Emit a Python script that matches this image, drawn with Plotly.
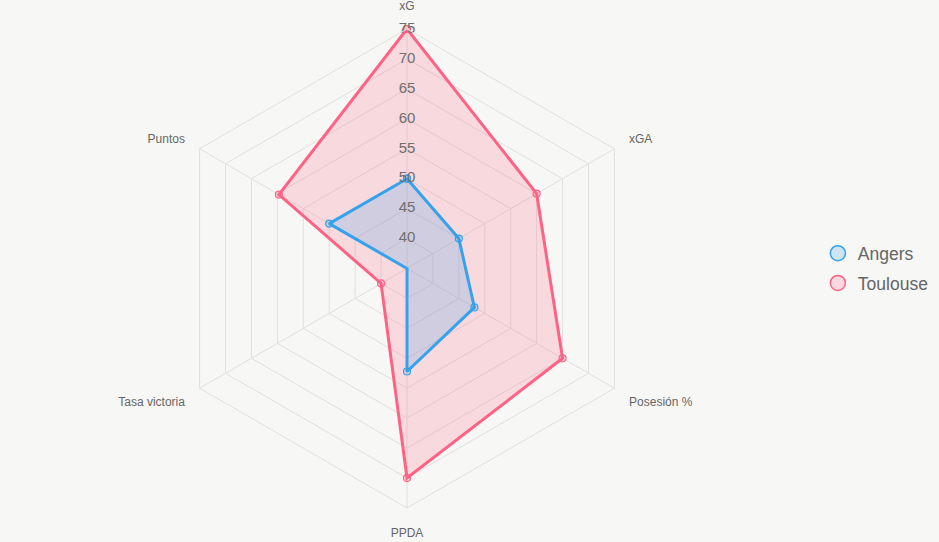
import plotly.graph_objects as go

categories = ["xG", "xGA", "Posesión %", "PPDA", "Tasa victoria", "Puntos"]
angers = [50, 45, 48, 52.2, 35, 50]
toulouse = [75, 60, 65, 70, 40, 59.7]
tick_values = [40, 45, 50, 55, 60, 65, 70, 75]
tick_labels = [str(v) for v in tick_values]
series_names = ["Angers", "Toulouse"]
series_values = [angers, toulouse]

line_colors = ["#36A2EB", "#FF6384"]
fill_colors = ["rgba(54,162,235,0.2)", "rgba(255,99,132,0.2)"]
FONT = "Liberation Sans, Arial, sans-serif"

fig = go.Figure()
# draw in reverse order so the first dataset sits on top (as Chart.js does)
for name, vals, lc, fc in reversed(list(zip(series_names, series_values, line_colors, fill_colors))):
    fig.add_trace(go.Scatterpolar(
        r=vals + vals[:1], theta=categories + categories[:1],
        mode="lines+markers", fill="toself", fillcolor=fc,
        line=dict(color=lc, width=3),
        marker=dict(size=7, color=fc, line=dict(color=lc, width=1.2)),
        name=name, showlegend=False, hoverinfo="skip",
    ))

# tick labels centered on the top spoke
fig.add_trace(go.Scatterpolar(
    r=tick_values, theta=[categories[0]] * len(tick_values),
    mode="text", text=tick_labels,
    textfont=dict(size=15, color="#6f6f6f", family=FONT),
    showlegend=False, hoverinfo="skip",
))

# legend entries
for name, lc, fc in zip(series_names, line_colors, fill_colors):
    fig.add_trace(go.Scatterpolar(
        r=[None], theta=[categories[0]], mode="markers", name=name,
        legendgroup=name,
        marker=dict(size=15, color=fc, line=dict(color=lc, width=1.5)),
    ))

W, H = 939, 542
cx, cy, rad = 407, 268.5, 239.5
fig.update_layout(
    width=W, height=H,
    margin=dict(l=0, r=0, t=0, b=0),
    paper_bgcolor="#f7f7f5", plot_bgcolor="#f7f7f5",
    font=dict(family=FONT, color="#666666"),
    polar=dict(
        bgcolor="rgba(0,0,0,0)",
        gridshape="linear",
        domain=dict(x=[(cx - rad) / W, (cx + rad) / W],
                    y=[(H - cy - rad) / H, (H - cy + rad) / H]),
        radialaxis=dict(range=[35, 75], tickvals=tick_values, showticklabels=False,
                        showline=False, ticks="", gridcolor="#e0e0e0", gridwidth=1,
                        angle=90),
        angularaxis=dict(rotation=90, direction="clockwise",
                         ticks="outside", ticklen=14, tickcolor="rgba(0,0,0,0)",
                         gridcolor="#e0e0e0", linecolor="#e0e0e0", linewidth=1,
                         tickfont=dict(size=12, color="#666666", family=FONT)),
    ),
    legend=dict(x=0.871, y=0.505, xanchor="left", yanchor="middle",
                font=dict(size=17.5, color="#666666", family=FONT),
                traceorder="grouped", tracegroupgap=4,
                bgcolor="rgba(0,0,0,0)", itemsizing="trace"),
)

fig.write_html("out.html")
